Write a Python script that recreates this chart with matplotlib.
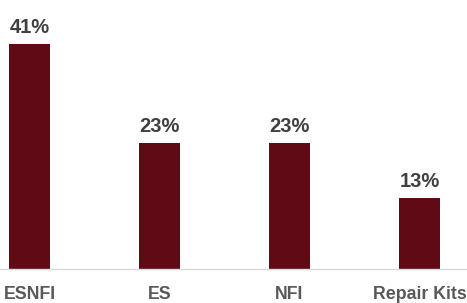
import matplotlib
matplotlib.use("Agg")
import matplotlib.pyplot as plt
from matplotlib import font_manager

categories = ["ESNFI", "ES", "NFI", "Repair Kits"]
values = [41, 23, 23, 13]
labels = ["41%", "23%", "23%", "13%"]

names = {f.name for f in font_manager.fontManager.ttflist}
fam = ["Liberation Sans Narrow", "Liberation Sans", "DejaVu Sans"]
fam = [f for f in fam if f in names] or ["DejaVu Sans"]
plt.rcParams['font.family'] = fam

W, H = 467, 303
fig = plt.figure(figsize=(W/100, H/100), dpi=100)
ax = fig.add_axes([0, 34/H, 1, 269/H])
x = list(range(len(categories)))
ax.bar(x, values, width=41/130, color="#600A15")
ax.set_xlim(-29.5/130, (W-29.5)/130)
ax.set_ylim(0, 269/5.488)
for xi, v, lab in zip(x, values, labels):
    ax.annotate(lab, (xi, v), xytext=(0, 5), textcoords="offset points",
                ha="center", va="bottom", fontsize=14.5, fontweight="bold", color="#404040")
ax.set_xticks(x)
ax.set_xticklabels(categories, fontsize=12.8, fontweight="bold", color="#595959")
ax.tick_params(axis="x", length=0, pad=12)
ax.set_yticks([])
for s in ["top", "left", "right"]:
    ax.spines[s].set_visible(False)
ax.spines["bottom"].set_color("#D9D9D9")
ax.spines["bottom"].set_linewidth(1)
ax.patch.set_alpha(0)
fig.savefig("out.png", dpi=100)
